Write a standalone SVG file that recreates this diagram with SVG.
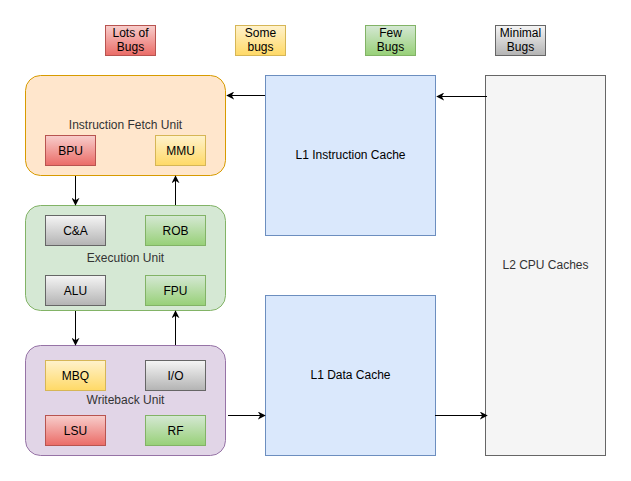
<svg xmlns="http://www.w3.org/2000/svg" width="631" height="481" viewBox="0 0 631 481">
<defs>
<linearGradient id="gR" x1="0" y1="0" x2="0" y2="1"><stop offset="0" stop-color="#f8cecc"/><stop offset="1" stop-color="#ea6b66"/></linearGradient>
<linearGradient id="gY" x1="0" y1="0" x2="0" y2="1"><stop offset="0" stop-color="#fff2cc"/><stop offset="1" stop-color="#ffd966"/></linearGradient>
<linearGradient id="gG" x1="0" y1="0" x2="0" y2="1"><stop offset="0" stop-color="#d5e8d4"/><stop offset="1" stop-color="#97d077"/></linearGradient>
<linearGradient id="gK" x1="0" y1="0" x2="0" y2="1"><stop offset="0" stop-color="#f5f5f5"/><stop offset="1" stop-color="#b3b3b3"/></linearGradient>
<marker id="ah" viewBox="0 0 10 10" refX="9" refY="5" markerWidth="8" markerHeight="8" markerUnits="userSpaceOnUse" orient="auto"><path d="M0,0 L10,5 L0,10 L3,5 Z" fill="#000"/></marker>
</defs>
<style>
text{font-family:"Liberation Sans",Arial,sans-serif;font-size:12px;fill:#000;text-anchor:middle}
text.lbl{fill:#333333}
.r{fill:url(#gR);stroke:#b85450}
.y{fill:url(#gY);stroke:#d6b656}
.g{fill:url(#gG);stroke:#82b366}
.k{fill:url(#gK);stroke:#666666}
.c{fill:none;stroke:#000;stroke-width:1;marker-end:url(#ah)}
</style>
<rect width="631" height="481" fill="#fff"/>
<g id="legend">
<g id="leg-red"><rect class="r" x="105.5" y="25.5" width="50" height="30"/><text x="130.5" y="37">Lots of</text><text x="130.5" y="51">Bugs</text></g>
<g id="leg-yellow"><rect class="y" x="235.5" y="25.5" width="50" height="30"/><text x="260.5" y="37">Some</text><text x="260.5" y="51">bugs</text></g>
<g id="leg-green"><rect class="g" x="365.5" y="25.5" width="50" height="30"/><text x="390.5" y="37">Few</text><text x="390.5" y="51">Bugs</text></g>
<g id="leg-gray"><rect class="k" x="495.5" y="25.5" width="50" height="30"/><text x="520.5" y="37">Minimal</text><text x="520.5" y="51">Bugs</text></g>
</g>
<g id="ifu">
<rect x="25.5" y="75.5" width="200" height="100" rx="15" fill="#ffe6cc" stroke="#d79b00"/>
<text class="lbl" x="125.5" y="129">Instruction Fetch Unit</text>
<g id="bpu"><rect class="r" x="45.5" y="135.5" width="50" height="30"/><text x="70.5" y="155">BPU</text></g>
<g id="mmu"><rect class="y" x="155.5" y="135.5" width="50" height="30"/><text x="180.5" y="155">MMU</text></g>
</g>
<g id="exu">
<rect x="25.5" y="205.5" width="200" height="105" rx="15" fill="#d5e8d4" stroke="#82b366"/>
<text class="lbl" x="125.5" y="262">Execution Unit</text>
<g id="ca"><rect class="k" x="45.5" y="215.5" width="60" height="30"/><text x="75.5" y="235">C&amp;A</text></g>
<g id="rob"><rect class="g" x="145.5" y="215.5" width="60" height="30"/><text x="175.5" y="235">ROB</text></g>
<g id="alu"><rect class="k" x="45.5" y="275.5" width="60" height="30"/><text x="75.5" y="295">ALU</text></g>
<g id="fpu"><rect class="g" x="145.5" y="275.5" width="60" height="30"/><text x="175.5" y="295">FPU</text></g>
</g>
<g id="wbu">
<rect x="25.5" y="345.5" width="200" height="110" rx="15" fill="#e1d5e7" stroke="#9673a6"/>
<text class="lbl" x="125.5" y="404">Writeback Unit</text>
<g id="mbq"><rect class="y" x="45.5" y="360.5" width="60" height="30"/><text x="75.5" y="380">MBQ</text></g>
<g id="io"><rect class="k" x="145.5" y="360.5" width="60" height="30"/><text x="175.5" y="380">I/O</text></g>
<g id="lsu"><rect class="r" x="45.5" y="415.5" width="60" height="30"/><text x="75.5" y="435">LSU</text></g>
<g id="rf"><rect class="g" x="145.5" y="415.5" width="60" height="30"/><text x="175.5" y="435">RF</text></g>
</g>
<g id="l1i"><rect x="265.5" y="75.5" width="170" height="160" fill="#dae8fc" stroke="#6c8ebf"/><text x="350.5" y="159">L1 Instruction Cache</text></g>
<g id="l1d"><rect x="265.5" y="295.5" width="170" height="160" fill="#dae8fc" stroke="#6c8ebf"/><text x="350.5" y="379">L1 Data Cache</text></g>
<g id="l2"><rect x="485.5" y="75.5" width="120" height="380" fill="#f5f5f5" stroke="#666666"/><text class="lbl" x="545.5" y="269">L2 CPU Caches</text></g>
<g id="connectors">
<path class="c" d="M265,95.5 H227"/>
<path class="c" d="M487,96.5 H437"/>
<path class="c" d="M228,415.5 H265"/>
<path class="c" d="M435,415.5 H487"/>
<path class="c" d="M75.5,176 V205"/>
<path class="c" d="M175.5,205 V176"/>
<path class="c" d="M75.5,311 V345"/>
<path class="c" d="M175.5,345 V311"/>
</g>
</svg>
